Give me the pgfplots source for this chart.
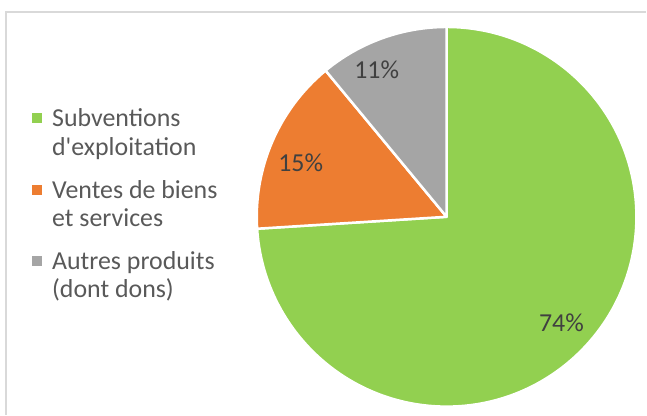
\documentclass[border=0pt]{standalone}
\usepackage{pgfplots}
\usepackage{pgfplotstable}
\pgfplotsset{compat=1.18}
\usepackage{fontspec}
\setmainfont{Carlito}
\definecolor{cgreen}{HTML}{92D050}
\definecolor{corange}{HTML}{ED7D31}
\definecolor{cgray}{HTML}{A5A5A5}
\definecolor{ctext}{HTML}{595959}
\definecolor{clab}{HTML}{404040}
\definecolor{cframe}{HTML}{D9D9D9}
\pgfplotstableread{
label value
Subventions 74
Ventes 15
Autres 11
}\piedata
\begin{document}
\begin{tikzpicture}
\pgfplotstablegetelem{0}{value}\of\piedata \let\va\pgfplotsretval
\pgfplotstablegetelem{1}{value}\of\piedata \let\vb\pgfplotsretval
\pgfplotstablegetelem{2}{value}\of\piedata \let\vc\pgfplotsretval
\pgfmathsetmacro{\tot}{\va+\vb+\vc}
\pgfmathsetmacro{\aA}{90}
\pgfmathsetmacro{\aB}{90-3.6*(\va/\tot)*100}
\pgfmathsetmacro{\aC}{\aB-3.6*(\vb/\tot)*100}
\pgfmathsetmacro{\aD}{\aC-3.6*(\vc/\tot)*100}
\begin{axis}[
  width=647bp, height=415bp, scale only axis,
  xmin=0, xmax=647, ymin=0, ymax=415,
  hide axis, clip=false,
]
\addplot[draw=none, forget plot] coordinates {(0,0) (647,415)};
% frame (left and top)
\draw[cframe, line width=1.2bp] (axis cs:6,0) -- (axis cs:6,403) -- (axis cs:647,403);
% pie
\filldraw[fill=cgreen, draw=white, line width=2.5bp, line join=round]
  (axis cs:447,198) -- ++(\aA:190bp) arc[start angle=\aA, end angle=\aB, radius=190bp] -- cycle;
\filldraw[fill=corange, draw=white, line width=2.5bp, line join=round]
  (axis cs:447,198) -- ++(\aB:190bp) arc[start angle=\aB, end angle=\aC, radius=190bp] -- cycle;
\filldraw[fill=cgray, draw=white, line width=2.5bp, line join=round]
  (axis cs:447,198) -- ++(\aC:190bp) arc[start angle=\aC, end angle=\aD, radius=190bp] -- cycle;
% data labels
\node[text=clab, font=\fontsize{26}{28}\selectfont] at (axis cs:562,92) {74\%};
\node[text=clab, font=\fontsize{26}{28}\selectfont] at (axis cs:301,252) {15\%};
\node[text=clab, font=\fontsize{26}{28}\selectfont] at (axis cs:377,345) {11\%};
% legend
\fill[cgreen] (axis cs:32,302) rectangle (axis cs:42,292);
\fill[corange] (axis cs:32,230) rectangle (axis cs:42,220);
\fill[cgray] (axis cs:32,159) rectangle (axis cs:42,149);
\begin{scope}[every node/.style={anchor=base west, inner sep=0pt, text=ctext, font=\fontsize{26}{28}\selectfont}]
\node at (axis cs:52,288) {Subventions};
\node at (axis cs:52,259) {d\textquotesingle exploitation};
\node at (axis cs:52,216) {Ventes de biens};
\node at (axis cs:52,188) {et services};
\node at (axis cs:52,145) {Autres produits};
\node at (axis cs:52,117) {(dont dons)};
\end{scope}
\end{axis}
\end{tikzpicture}
\end{document}
